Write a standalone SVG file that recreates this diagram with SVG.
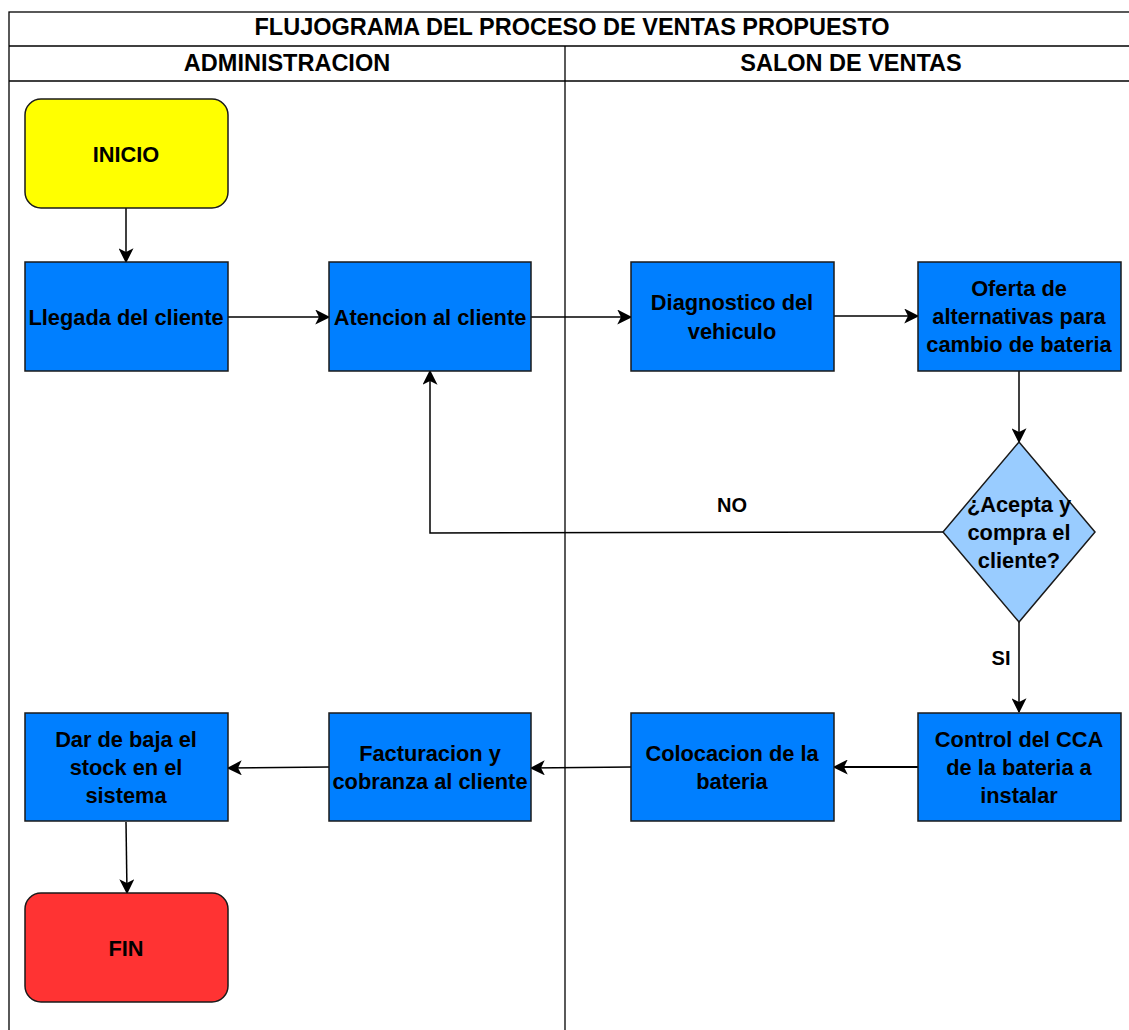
<svg xmlns="http://www.w3.org/2000/svg" width="1129" height="1030" viewBox="0 0 1129 1030">
  <defs>
    <marker id="arrow" viewBox="0 0 12 12" refX="11" refY="6" markerWidth="15" markerHeight="15" markerUnits="userSpaceOnUse" orient="auto">
      <path d="M0,0 L12,6 L0,12 L3,6 Z" fill="#000"/>
    </marker>
    <style>
      .lane { fill: none; stroke: #000; stroke-width: 1.3; }
      .title { font-family: "Liberation Sans", Arial, sans-serif; font-weight: bold; font-size: 23.5px; fill: #000; text-anchor: middle; }
      .label { font-family: "Liberation Sans", Arial, sans-serif; font-weight: bold; font-size: 21.8px; fill: #000; text-anchor: middle; }
      .edge-label { font-family: "Liberation Sans", Arial, sans-serif; font-weight: bold; font-size: 20px; fill: #000; text-anchor: middle; }
      .proc { fill: #007FFF; stroke: #1a1a1a; stroke-width: 1.5; }
      .start { fill: #FFFF00; stroke: #1a1a1a; stroke-width: 1.5; }
      .end { fill: #FF3333; stroke: #1a1a1a; stroke-width: 1.5; }
      .decision { fill: #99CCFF; stroke: #1a1a1a; stroke-width: 1.5; }
      .conn { fill: none; stroke: #000; stroke-width: 1.5; marker-end: url(#arrow); }
    </style>
  </defs>
  <rect width="1129" height="1030" fill="#fff"/>

  <!-- pool frame and lanes -->
  <g id="pool">
    <rect class="lane" x="9" y="12" width="1130" height="1030"/>
    <line class="lane" x1="9" y1="46" x2="1129" y2="46"/>
    <line class="lane" x1="9" y1="81" x2="1129" y2="81"/>
    <line class="lane" x1="565" y1="46" x2="565" y2="1030"/>
    <text class="title" x="572" y="35">FLUJOGRAMA DEL PROCESO DE VENTAS PROPUESTO</text>
    <text class="title" x="287" y="71">ADMINISTRACION</text>
    <text class="title" x="851" y="71">SALON DE VENTAS</text>
  </g>

  <!-- connectors -->
  <g id="connectors">
    <path class="conn" d="M126,208 L126,262"/>
    <path class="conn" d="M228,317 L329,317"/>
    <path class="conn" d="M531,317 L631,317"/>
    <path class="conn" d="M834,316 L918,316"/>
    <path class="conn" d="M1019,371 L1019,442"/>
    <path class="conn" d="M943,532 L430,533 L430,371"/>
    <path class="conn" d="M1019,622 L1019,712"/>
    <path class="conn" d="M918,767 L834,767" style="stroke-width:2.2"/>
    <path class="conn" d="M631,767 L531,768"/>
    <path class="conn" d="M329,767 L228,768"/>
    <path class="conn" d="M126,822 L127,893"/>
    <text class="edge-label" x="732" y="512">NO</text>
    <text class="edge-label" x="1001" y="665">SI</text>
  </g>

  <!-- nodes -->
  <g id="inicio">
    <rect class="start" x="25" y="99" width="203" height="109" rx="16"/>
    <text class="label" x="126" y="162">INICIO</text>
  </g>
  <g id="llegada">
    <rect class="proc" x="25" y="262" width="203" height="109"/>
    <text class="label" x="126" y="325">Llegada del cliente</text>
  </g>
  <g id="atencion">
    <rect class="proc" x="329" y="262" width="202" height="109"/>
    <text class="label" x="430" y="325">Atencion al cliente</text>
  </g>
  <g id="diagnostico">
    <rect class="proc" x="631" y="262" width="203" height="109"/>
    <text class="label" x="732" y="310">Diagnostico del</text>
    <text class="label" x="732" y="339">vehiculo</text>
  </g>
  <g id="oferta">
    <rect class="proc" x="918" y="262" width="203" height="109"/>
    <text class="label" x="1019" y="296">Oferta de</text>
    <text class="label" x="1019" y="324">alternativas para</text>
    <text class="label" x="1019" y="352">cambio de bateria</text>
  </g>
  <g id="decision">
    <polygon class="decision" points="1019,442 1095,532 1019,622 943,532"/>
    <text class="label" x="1019" y="512">¿Acepta y</text>
    <text class="label" x="1019" y="540">compra el</text>
    <text class="label" x="1019" y="568">cliente?</text>
  </g>
  <g id="control">
    <rect class="proc" x="918" y="713" width="203" height="108"/>
    <text class="label" x="1019" y="747">Control del CCA</text>
    <text class="label" x="1019" y="775">de la bateria a</text>
    <text class="label" x="1019" y="803">instalar</text>
  </g>
  <g id="colocacion">
    <rect class="proc" x="631" y="713" width="203" height="108"/>
    <text class="label" x="732" y="761">Colocacion de la</text>
    <text class="label" x="732" y="789">bateria</text>
  </g>
  <g id="facturacion">
    <rect class="proc" x="329" y="713" width="202" height="108"/>
    <text class="label" x="430" y="761">Facturacion y</text>
    <text class="label" x="430" y="789">cobranza al cliente</text>
  </g>
  <g id="baja">
    <rect class="proc" x="25" y="713" width="203" height="108"/>
    <text class="label" x="126" y="747">Dar de baja el</text>
    <text class="label" x="126" y="775">stock en el</text>
    <text class="label" x="126" y="803">sistema</text>
  </g>
  <g id="fin">
    <rect class="end" x="25" y="893" width="203" height="109" rx="16"/>
    <text class="label" x="126" y="956">FIN</text>
  </g>
</svg>
